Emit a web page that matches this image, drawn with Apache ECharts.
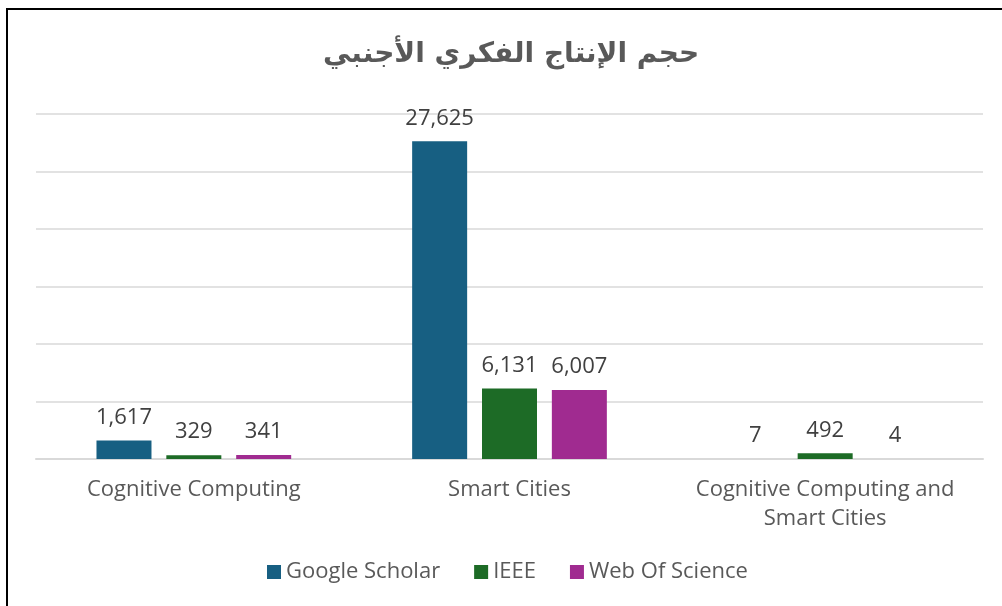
<!DOCTYPE html>
<html>
<head>
<meta charset="utf-8">
<script src="https://cdn.jsdelivr.net/npm/echarts@6/dist/echarts.min.js"></script>
<style>
html,body{margin:0;padding:0;background:#fff;}
#frame{position:absolute;left:6px;top:8px;width:1000px;height:600px;border-left:2px solid #000;border-top:2px solid #000;box-sizing:border-box;}
#chart{position:absolute;left:0;top:0;width:1002px;height:606px;}
</style>
</head>
<body>
<div id="frame"></div>
<div id="chart"></div>
<script>
const titleText = 'حجم الإنتاج الفكري الأجنبي';
const categories = ['Cognitive Computing', 'Smart Cities', 'Cognitive Computing and\nSmart Cities'];
const googleScholar = [1617, 27625, 7];
const ieee = [329, 6131, 492];
const webOfScience = [341, 6007, 4];
const seriesNames = ['Google Scholar', 'IEEE', 'Web Of Science'];
const colors = ['#175f82', '#1d6b26', '#a02b90'];

const font = '"Open Sans", "Noto Sans", sans-serif';
const chart = echarts.init(document.getElementById('chart'));
const mkSeries = (name, data, color) => ({
  name, type: 'bar', data,
  barWidth: 55, barGap: '27%',
  itemStyle: { color },
  label: {
    show: true, position: 'top', distance: 12,
    color: '#404040', fontSize: 22, fontFamily: font,
    formatter: p => p.value.toLocaleString('en-US')
  }
});
chart.setOption({
  animation: false,
  title: {
    text: titleText, left: 318, top: 36,
    textStyle: { fontFamily: '"DejaVu Sans", sans-serif', fontSize: 28, fontWeight: 'bold', color: '#595959' }
  },
  grid: { left: 36, right: 19, top: 114, bottom: 147, containLabel: false },
  legend: {
    bottom: 18, left: 262, itemWidth: 14, itemHeight: 14, itemGap: 34,
    icon: 'rect',
    textStyle: { fontFamily: font, fontSize: 22, color: '#595959' },
    data: seriesNames
  },
  xAxis: {
    type: 'category', data: categories,
    axisLine: { show: true, lineStyle: { color: '#d9d9d9', width: 2 } },
    axisTick: { show: false },
    axisLabel: { interval: 0, hideOverlap: false, fontFamily: font, fontSize: 22, color: '#595959', margin: 16, lineHeight: 29 }
  },
  yAxis: {
    type: 'value', min: 0, max: 30000, interval: 5000,
    axisLabel: { show: false },
    axisLine: { show: false }, axisTick: { show: false },
    splitLine: { lineStyle: { color: '#d9d9d9', width: 1.5 } }
  },
  series: [
    mkSeries(seriesNames[0], googleScholar, colors[0]),
    mkSeries(seriesNames[1], ieee, colors[1]),
    mkSeries(seriesNames[2], webOfScience, colors[2])
  ]
});
</script>
</body>
</html>
